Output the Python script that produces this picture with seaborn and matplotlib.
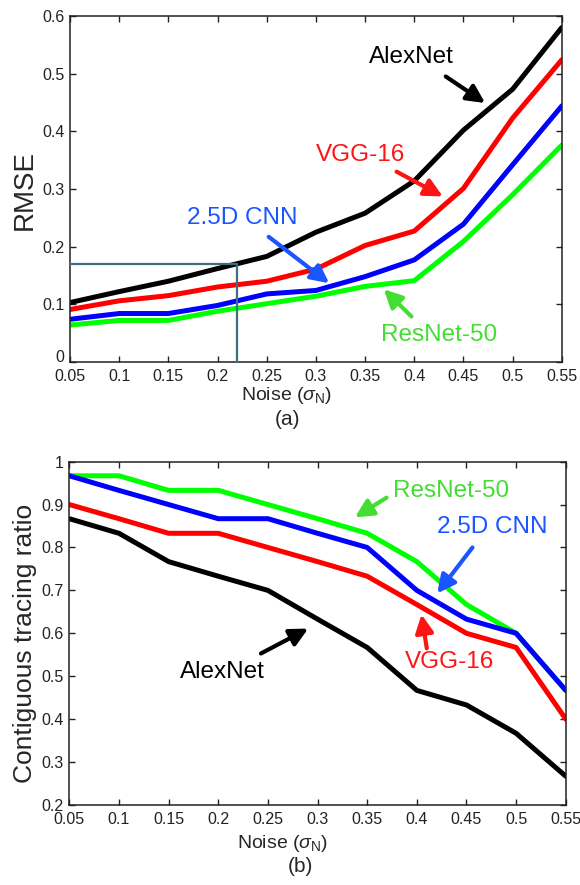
import pandas as pd
import matplotlib
matplotlib.use('Agg')
import matplotlib.pyplot as plt
import seaborn as sns

# noise levels (x axis, both panels)
noise = [0.05, 0.1, 0.15, 0.2, 0.25, 0.3, 0.35, 0.4, 0.45, 0.5, 0.55]

# (a) RMSE
rmse_alexnet = [0.103, 0.122, 0.140, 0.162, 0.183, 0.225, 0.258, 0.314, 0.402, 0.473, 0.580]
rmse_vgg16 = [0.091, 0.106, 0.115, 0.130, 0.140, 0.161, 0.202, 0.227, 0.301, 0.423, 0.524]
rmse_cnn25d = [0.074, 0.084, 0.084, 0.098, 0.118, 0.124, 0.148, 0.177, 0.239, 0.342, 0.444]
rmse_resnet50 = [0.064, 0.072, 0.072, 0.088, 0.101, 0.114, 0.131, 0.141, 0.209, 0.290, 0.376]

# (b) contiguous tracing ratio
ctr_alexnet = [0.867, 0.833, 0.767, 0.733, 0.700, 0.633, 0.567, 0.467, 0.433, 0.367, 0.267]
ctr_vgg16 = [0.900, 0.867, 0.833, 0.833, 0.800, 0.767, 0.733, 0.667, 0.600, 0.567, 0.400]
ctr_cnn25d = [0.967, 0.933, 0.900, 0.867, 0.867, 0.833, 0.800, 0.700, 0.633, 0.600, 0.467]
ctr_resnet50 = [0.967, 0.967, 0.933, 0.933, 0.900, 0.867, 0.833, 0.767, 0.667, 0.600, 0.467]

# reference point marked in (a)
ref_noise = 0.22
ref_rmse = 0.17

models = ['AlexNet', 'VGG-16', 'ResNet-50', '2.5D CNN']
line_colors = {'AlexNet': 'black', 'VGG-16': '#ff0000', 'ResNet-50': '#00ff00', '2.5D CNN': '#0000ff'}
label_colors = {'AlexNet': 'black', 'VGG-16': '#ff1414', 'ResNet-50': '#44dd33', '2.5D CNN': '#1a55ff'}


def long_form(series):
    rows = []
    for name, vals in series.items():
        for x, y in zip(noise, vals):
            rows.append({'noise': x, 'value': y, 'model': name})
    return pd.DataFrame(rows)


df_a = long_form({'AlexNet': rmse_alexnet, 'VGG-16': rmse_vgg16,
                  '2.5D CNN': rmse_cnn25d, 'ResNet-50': rmse_resnet50})
df_b = long_form({'AlexNet': ctr_alexnet, 'VGG-16': ctr_vgg16,
                  '2.5D CNN': ctr_cnn25d, 'ResNet-50': ctr_resnet50})

sns.set_style('ticks')
plt.rcParams['font.family'] = ['Liberation Sans', 'DejaVu Sans']
plt.rcParams['mathtext.fontset'] = 'custom'
plt.rcParams['mathtext.rm'] = 'Liberation Sans'
plt.rcParams['mathtext.it'] = 'Liberation Sans:italic'

fig = plt.figure(figsize=(5.8, 8.85), dpi=100)
ax1 = fig.add_axes([0.1207, 0.591, 0.848, 0.391])
ax2 = fig.add_axes([0.1195, 0.0904, 0.856, 0.388])

for ax, df in [(ax1, df_a), (ax2, df_b)]:
    sns.lineplot(data=df, x='noise', y='value', hue='model', hue_order=models,
                 palette=line_colors, linewidth=3.6, legend=False, ax=ax)
    ax.set_xlim(0.05, 0.55)
    ax.set_xticks(noise)
    ax.set_xticklabels(['%g' % v for v in noise])
    ax.tick_params(direction='in', top=True, right=True, length=4, width=1,
                   labelsize=11.5, colors='#222222', pad=4)
    ax.tick_params(axis='x', pad=5)
    for s in ax.spines.values():
        s.set_linewidth(1.1)
        s.set_color('#222222')
        s.set_visible(True)
    ax.set_xlabel('')
    ax.set_ylabel('')

ax1.set_ylim(0, 0.6)
ax1.set_yticks([0, 0.1, 0.2, 0.3, 0.4, 0.5, 0.6])
ax1.set_yticklabels(['0', '0.1', '0.2', '0.3', '0.4', '0.5', '0.6'])
ax1.get_yticklabels()[0].set_va('baseline')  # "0" sits just above the corner
ax2.set_ylim(0.2, 1.0)
ax2.set_yticks([0.2, 0.3, 0.4, 0.5, 0.6, 0.7, 0.8, 0.9, 1.0])
ax2.set_yticklabels(['0.2', '0.3', '0.4', '0.5', '0.6', '0.7', '0.8', '0.9', '1'])

# reference lines in (a)
ax1.plot([0.05, ref_noise], [ref_rmse, ref_rmse], color='#3b7080', lw=1.6, zorder=5)
ax1.plot([ref_noise, ref_noise], [0, ref_rmse], color='#3b7080', lw=1.6, zorder=5, clip_on=False)


def label(ax, name, text_xy, tail, head):
    c = label_colors[name]
    ax.text(text_xy[0], text_xy[1], name, color=c, fontsize=17.5, ha='center', va='center')
    ax.annotate('', xy=head, xytext=tail,
                arrowprops=dict(arrowstyle='-|>,head_length=0.9,head_width=0.45',
                                mutation_scale=12, lw=3, color=c, shrinkA=0, shrinkB=0))


label(ax1, 'AlexNet', (0.397, 0.529), (0.432, 0.495), (0.472, 0.449))
label(ax1, 'VGG-16', (0.345, 0.358), (0.382, 0.330), (0.429, 0.287))
label(ax1, '2.5D CNN', (0.225, 0.249), (0.252, 0.217), (0.3135, 0.1365))
label(ax1, 'ResNet-50', (0.425, 0.046), (0.397, 0.079), (0.369, 0.126))

label(ax2, 'ResNet-50', (0.4345, 0.932), (0.3695, 0.916), (0.3376, 0.870))
label(ax2, '2.5D CNN', (0.4755, 0.848), (0.456, 0.800), (0.4205, 0.693))
label(ax2, 'VGG-16', (0.4325, 0.532), (0.410, 0.565), (0.4047, 0.644))
label(ax2, 'AlexNet', (0.2044, 0.510), (0.243, 0.553), (0.2906, 0.611))

# axis titles and panel tags
xlab = r'Noise ($\sigma_{\mathrm{N}}$)'
fig.text(287 / 580, 1 - 395 / 885, xlab, fontsize=14, ha='center', va='center')
fig.text(287 / 580, 1 - 410 / 885, '(a)', fontsize=15, ha='center', va='top')
fig.text(25 / 580, 1 - 190 / 885, 'RMSE', fontsize=20, rotation=90, ha='center', va='center')

fig.text(283 / 580, 1 - 843 / 885, xlab, fontsize=14, ha='center', va='center')
fig.text(300 / 580, 1 - 857 / 885, '(b)', fontsize=15, ha='center', va='top')
fig.text(25 / 580, 1 - 643 / 885, 'Contiguous tracing ratio', fontsize=19, rotation=90,
         ha='center', va='center')

fig.savefig('out.png', dpi=100)
